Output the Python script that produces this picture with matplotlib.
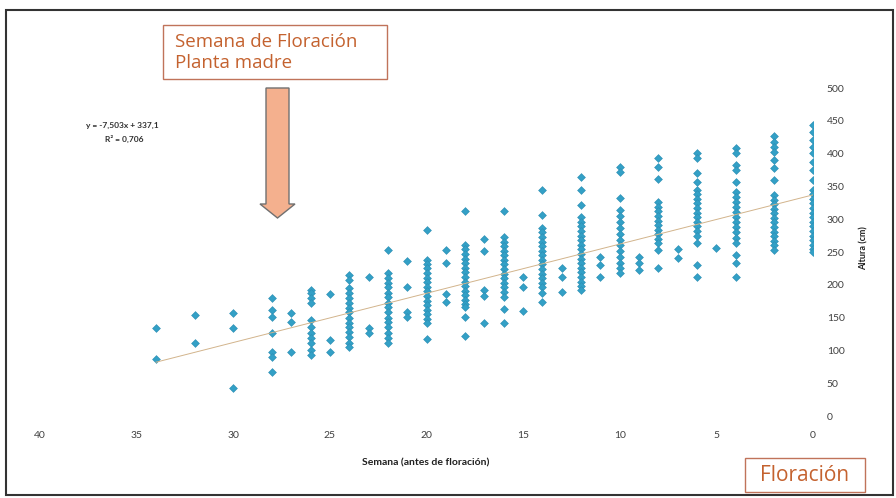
import numpy as np
import matplotlib
matplotlib.use("Agg")
import matplotlib.pyplot as plt
from matplotlib.patches import Rectangle, Polygon

plt.rcParams['font.family'] = ['Lato', 'DejaVu Sans']

# semanas antes de floracion y alturas (cm) medidas en cada semana
semanas = [0, 2, 4, 5, 6, 7, 8, 9, 10, 11, 12, 13, 14, 15, 16, 17, 18,
           19, 20, 21, 22, 23, 24, 25, 26, 27, 28, 30, 32, 34]
alturas = [
    [444, 433, 421, 410, 401, 387, 375, 360, 345, 338, 331, 324, 317, 310, 303, 296, 289, 282, 275, 268, 261, 255, 250],
    [427, 418, 410, 402, 390, 378, 360, 337, 330, 323, 316, 309, 302, 295, 288, 281, 274, 267, 260, 253],
    [408, 401, 383, 375, 357, 341, 334, 326, 319, 311, 303, 296, 288, 280, 272, 264, 245, 233, 212],
    [256],
    [401, 393, 370, 357, 345, 338, 331, 324, 317, 310, 303, 296, 289, 282, 275, 264, 230, 212],
    [255, 241],
    [393, 380, 361, 326, 319, 312, 305, 298, 291, 284, 277, 270, 263, 253, 226],
    [242, 233, 222],
    [380, 372, 332, 314, 305, 296, 287, 278, 269, 260, 251, 242, 233, 225, 218],
    [242, 230, 212],
    [364, 345, 322, 303, 296, 289, 282, 275, 268, 261, 254, 247, 240, 233, 226, 219, 212, 205, 198, 192],
    [226, 212, 189],
    [345, 306, 287, 280, 273, 266, 259, 252, 245, 238, 231, 224, 217, 210, 203, 196, 187, 174],
    [212, 197, 160],
    [312, 273, 266, 259, 252, 245, 238, 231, 224, 217, 210, 203, 196, 189, 181, 163, 142],
    [270, 252, 192, 183, 142],
    [312, 261, 254, 247, 240, 233, 226, 219, 212, 205, 198, 191, 184, 177, 170, 166, 151, 122],
    [253, 233, 186, 174],
    [284, 238, 232, 225, 218, 211, 204, 197, 190, 183, 176, 169, 162, 155, 148, 142, 117],
    [236, 197, 158, 151],
    [253, 218, 210, 203, 196, 188, 181, 173, 166, 158, 150, 143, 135, 127, 119, 111],
    [212, 134, 127],
    [215, 207, 195, 188, 180, 172, 165, 158, 150, 142, 135, 128, 120, 112, 105],
    [186, 116, 98],
    [192, 187, 180, 172, 146, 136, 127, 119, 111, 101, 93],
    [157, 143, 98],
    [180, 162, 151, 127, 98, 90, 67],
    [157, 134, 43],
    [154, 111],
    [134, 87],
]

# linea de tendencia mostrada en el grafico
pendiente = -7.503
intercepto = 337.1
r2 = 0.706

x_ticks = [40, 35, 30, 25, 20, 15, 10, 5, 0]
y_ticks = [0, 50, 100, 150, 200, 250, 300, 350, 400, 450, 500]

W, H = 896, 498
fig = plt.figure(figsize=(W / 100, H / 100), dpi=100)
fig.patch.set_facecolor('white')

def fx(px):
    return px / W

def fy(py):
    return 1 - py / H

ax = fig.add_axes([fx(40), fy(416), fx(813) - fx(40), fy(88) - fy(416)])
ax.set_facecolor('none')

xs = np.concatenate([[s] * len(a) for s, a in zip(semanas, alturas)])
ys = np.concatenate(alturas)
ax.scatter(xs, ys, marker='D', s=16, color='#33a0c6', edgecolors='#2b8db3',
           linewidths=0.4, zorder=3)

xt = np.array([max(semanas), 0])
ax.plot(xt, pendiente * xt + intercepto, color='#d2b48c', lw=0.7, zorder=4)

ax.set_xlim(40, 0)
ax.set_ylim(0, 500)
ax.set_xticks(x_ticks)
ax.set_yticks(y_ticks)
ax.yaxis.tick_right()
ax.tick_params(axis='both', length=0, labelsize=7.5, colors='#404040')
ax.tick_params(axis='x', pad=11)
ax.tick_params(axis='y', pad=10)
for lbl in ax.get_yticklabels():
    lbl.set_horizontalalignment('left')
for s in ax.spines.values():
    s.set_visible(False)

fig.text(fx(426), fy(463), 'Semana (antes de floración)', ha='center', va='center',
         fontsize=7.5, fontweight='bold', color='#202020')
fig.text(fx(864), fy(248), 'Altura (cm)', ha='center', va='center', rotation=90,
         fontsize=6.5, fontweight='bold', color='#202020')

fig.text(fx(122), fy(125), 'y = -7,503x + 337,1', ha='center', va='center',
         fontsize=6, fontweight='bold', color='#303030')
fig.text(fx(124), fy(139), 'R² = 0,706', ha='center', va='center',
         fontsize=6, fontweight='bold', color='#303030')

# cuadro superior
fig.patches.append(Rectangle((fx(163), fy(79)), fx(387) - fx(163), fy(25) - fy(79),
                             transform=fig.transFigure, facecolor='white',
                             edgecolor='#c0735a', lw=1.0))
fig.text(fx(175), fy(42), 'Semana de Floración', ha='left', va='center',
         fontsize=13.5, color='#c4622f', family=['Open Sans', 'DejaVu Sans'])
fig.text(fx(175), fy(63), 'Planta madre', ha='left', va='center',
         fontsize=13.5, color='#c4622f', family=['Open Sans', 'DejaVu Sans'])

# flecha
arrow_px = [(266, 88), (289, 88), (289, 204), (295, 204), (277.5, 218),
            (260, 204), (266, 204)]
fig.patches.append(Polygon([(fx(a), fy(b)) for a, b in arrow_px], closed=True,
                           transform=fig.transFigure, facecolor='#f4b08e',
                           edgecolor='#707070', lw=1.0))

# cuadro inferior
fig.patches.append(Rectangle((fx(745), fy(492)), fx(865) - fx(745), fy(458) - fy(492),
                             transform=fig.transFigure, facecolor='white',
                             edgecolor='#c0735a', lw=1.0))
fig.text(fx(805), fy(475), 'Floración', ha='center', va='center',
         fontsize=15, color='#c4622f', family=['Open Sans', 'DejaVu Sans'])

# marco
fig.patches.append(Rectangle((fx(6), fy(495)), fx(893) - fx(6), fy(10) - fy(495),
                             transform=fig.transFigure, facecolor='none',
                             edgecolor='#333333', lw=1.5))

fig.savefig('out.png', dpi=100)
